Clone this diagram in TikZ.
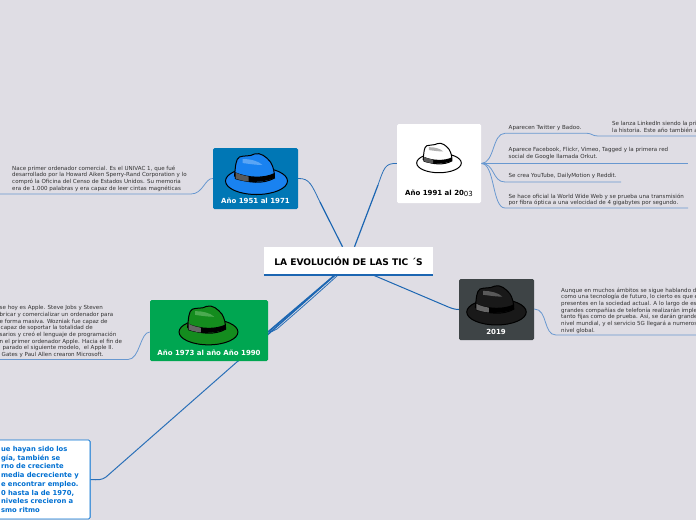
\documentclass[tikz,border=0pt]{standalone}
\usepackage{fontspec}
\setmainfont{DejaVu Sans}
\usetikzlibrary{calc,backgrounds}
\definecolor{paper}{RGB}{223,221,228}
\definecolor{linkblue}{RGB}{28,102,178}
\definecolor{leafblue}{RGB}{104,152,208}
\definecolor{leafgray}{RGB}{50,50,50}
\definecolor{boxblue}{RGB}{0,119,181}
\definecolor{boxgreen}{RGB}{0,166,81}
\definecolor{boxdark}{RGB}{62,68,70}
\definecolor{textblue}{RGB}{0,112,210}
\definecolor{hatblue}{RGB}{25,130,240}
\definecolor{hatbluelight}{RGB}{90,165,245}
\definecolor{hatgreen}{RGB}{20,140,30}
\definecolor{hatgreenlight}{RGB}{75,170,80}
\tikzset{
  yearbox/.style={rectangle,rounded corners=1.5pt,inner sep=0pt},
  yearlabel/.style={inner sep=0pt,font=\fontsize{7}{8}\selectfont\bfseries},
  leaftext/.style={inner sep=0pt,anchor=north west,align=left,text=leafgray,font=\fontsize{5.55}{6.65}\selectfont},
  mainlink/.style={linkblue,line width=1.2pt},
  leaflink/.style={leafblue,line width=0.8pt},
}
% fedora at brim centre: brim, crown, band, highlight
\newcommand{\fedora}[6]{%
  \begin{scope}[shift={(#1)},scale=#2,line width=1pt]
    \draw[fill=#3] (0,0) ellipse (31 and 13.5);
    \draw[fill=#3] (-22,-5) .. controls (-21,-14) and (-21,-22) .. (-17,-24) .. controls (-12,-26) and (-7,-24) .. (-2,-27) .. controls (4,-29) and (10,-24) .. (14,-19) .. controls (17,-14) and (18,-9) .. (18,-3) .. controls (8,3) and (-10,3) .. (-22,-5) -- cycle;
    \fill[#4] (-22,-9) .. controls (-8,-3) and (8,-3) .. (18,-8) -- (18,-3) .. controls (6,2) and (-10,2) .. (-21.5,-2) -- cycle;
    \fill[#5] (-21,-8.5) .. controls (-17,-6.5) and (-13,-5.5) .. (-8,-4.5) -- (-8,0.5) .. controls (-13,0) and (-17,-1) .. (-21,-2.5) -- cycle;
    \fill[#6] (-14,-22) .. controls (-6,-22) and (2,-20) .. (6,-16) .. controls (0,-16) and (-7,-17) .. (-14,-18) -- cycle;
  \end{scope}}
\begin{document}
\begin{tikzpicture}[x=1pt,y=-1pt]
\useasboundingbox (0,0) rectangle (696,520);
% central node
\node[fill=white,minimum width=169pt,minimum height=28pt,inner sep=0pt,font=\fontsize{9.1}{10}\selectfont\bfseries] (root) at (348.5,261) {LA EVOLUCIÓN DE LAS TIC ´S};
\draw[linkblue,line width=1.5pt] (root.south west) -- (root.south east);
% year boxes
\node[yearbox,fill=boxblue,minimum width=85pt,minimum height=61pt] (y1951) at (255.5,178.5) {};
\node[yearbox,fill=white,minimum width=84pt,minimum height=79pt] (y1991) at (439,163.5) {};
\node[yearbox,fill=boxdark,minimum width=75pt,minimum height=61pt] (y2019) at (496.5,309.5) {};
\node[yearbox,fill=boxgreen,minimum width=118pt,minimum height=61pt] (y1973) at (209,330.5) {};
\node[yearlabel,text=white] (l1951) at (255.5,200.5) {Año 1951 al 1971};
\node[yearlabel,text=black] (l1991) at (439,193.5) {Año 1991 al 20\raisebox{-0.8pt}{\mdseries 03}};
\node[yearlabel,text=white] (l2019) at (496,331.5) {2019};
\node[yearlabel,text=white] (l1973) at (209,352.5) {Año 1973 al año Año 1990};
% hats
\fedora{256.5,181}{1}{hatblue}{black}{black!65}{hatbluelight}
\fedora{439,163}{0.72}{white}{black}{black!65}{black!30}
\fedora{496.5,312}{0.96}{black!90}{black}{black!60}{black!65}
\fedora{208.5,332}{0.95}{hatgreen}{black}{black!60}{hatgreenlight}
% bottom left box
\node[draw=textblue,fill=white,line width=0.8pt,rounded corners=1.5pt,anchor=east,text width=86pt,inner xsep=3pt,minimum height=79pt,align=left,text=textblue,font=\fontsize{6.8}{8.7}\selectfont\bfseries] (nota) at (90.5,479.5) {ue hayan sido los\\gía, también se\\rno de creciente\\media decreciente y\\e encontrar empleo.\\0 hasta la de 1970,\\niveles crecieron a\\smo ritmo};
% texts
\node[leaftext] (t1951) at (12,165.5) {Nace primer ordenador comercial. Es el UNIVAC 1, que fué\\desarrollado por la Howard Aiken Sperry-Rand Corporation y lo\\compró la Oficina del Censo de Estados Unidos. Su memoria\\era de 1.000 palabras y era capaz de leer cintas magnéticas};
\node[leaftext] (t1973) at (-0.5,305.5) {se hoy es Apple. Steve Jobs y Steven\\bricar y comercializar un ordenador para\\e forma masiva. Wozniak fue capaz de\\\hspace*{1pt}capaz de soportar la totalidad de\\sarios y creó el lenguaje de programación\\n el primer ordenador Apple. Hacia el fin de\\\hspace*{3pt}parado el siguiente modelo, \ el Apple II.\\\hspace*{2pt}Gates y Paul Allen crearon Microsoft.};
\node[leaftext] (tw) at (508.5,125.5) {Aparecen Twitter y Badoo.};
\node[leaftext] (ln) at (612,121.5) {Se lanza LinkedIn siendo la pri\\la historia. Este año también a};
\node[leaftext] (fb) at (508.5,147.5) {Aparece Facebook, Flickr, Vimeo, Tagged y la primera red\\social de Google llamada Orkut.};
\node[leaftext] (yt) at (508.5,173.5) {Se crea YouTube, DailyMotion y Reddit.};
\node[leaftext] (www) at (508.5,193.5) {Se hace oficial la World Wide Web y se prueba una transmisión\\por fibra óptica a una velocidad de 4 gigabytes por segundo.};
\node[leaftext] (t2019) at (561,287.5) {Aunque en muchos ámbitos se sigue hablando d\\como una tecnología de futuro, lo cierto es que e\\presentes en la sociedad actual. A lo largo de est\\grandes compañías de telefonía realizarán implem\\tanto fijas como de prueba. Así, se darán grande\\nivel mundial, y el servicio 5G llegará a numeros\\nivel global.};
% free ends of the underlines
\coordinate (e1951) at (0,194);
\coordinate (e1973) at (0,359.5);
\coordinate (etw) at (587,133.3);
\coordinate (eln) at (696,136);
\coordinate (efb) at (688,163.5);
\coordinate (eyt) at (621,182);
\coordinate (ewww) at (688,208);
\coordinate (e2019) at (696,335);
\begin{scope}[on background layer]
\fill[paper] (0,0) rectangle (696,520);
% links from the central node
\draw[mainlink] (root.north) ++(-6,0) -- (320,202);
\draw[leaflink,linkblue!80!leafblue] (320,202) .. controls (312,186) and (310,178) .. (y1951.east);
\draw[mainlink] (root.north) ++(6,0) -- (378,185);
\draw[leaflink,linkblue!80!leafblue] (378,185) .. controls (384,168) and (385,163) .. (y1991.west);
\draw[linkblue,line width=1pt] (373,275) -- (446,306) .. controls (450,307.7) and (454,309.5) .. (y2019.west);
\draw[linkblue,line width=1.6pt] (335,275) -- (268,332);
\draw[leaflink,linkblue!80!leafblue] (338,275) .. controls (305,305) and (285,322) .. (277,329) .. controls (274,331) and (271,332) .. (y1973.east |- 0,332);
\draw[linkblue,line width=1.4pt] (335,275) -- (238,361);
\draw[linkblue!80!leafblue,line width=1pt] (238,361) -- (106,477) .. controls (102,480) and (98,480) .. (nota.east);
% links to the texts
\draw[leaflink] (y1951.west) .. controls (205,178) and (203,194) .. (191,194) -- (e1951);
\draw[leaflink] (y1973.west |- 0,332) .. controls (140,332) and (140,359.5) .. (128,359.5) -- (e1973);
\draw[leaflink] (y1991.east) .. controls (495,163) and (492,133.3) .. (505,133.3) -- (etw);
\draw[leaflink] (etw) .. controls (592,133.3) and (592,136) .. (598,136) -- (eln);
\draw[leaflink] (y1991.east) -- (efb);
\draw[leaflink] (y1991.east) .. controls (495,163) and (492,182) .. (505,182) -- (eyt);
\draw[leaflink] (y1991.east) .. controls (495,163) and (492,208) .. (505,208) -- (ewww);
\draw[leaflink] (y2019.east |- 0,309) .. controls (548,309) and (543,335) .. (556,335) -- (e2019);
\end{scope}
\end{tikzpicture}
\end{document}
